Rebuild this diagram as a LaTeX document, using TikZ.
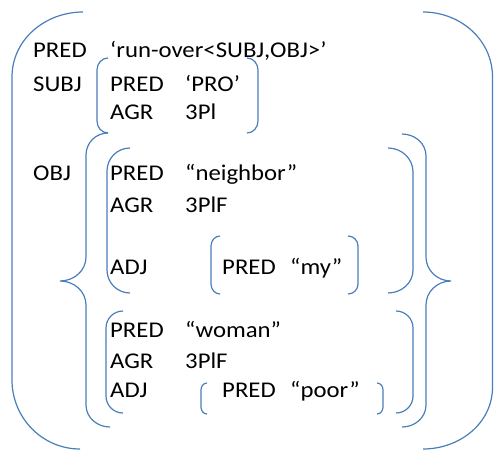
\documentclass[tikz,border=0pt]{standalone}
\usepackage{fontspec}
\setmainfont{Carlito}[FakeStretch=1.1]
\definecolor{brblue}{RGB}{74,126,187}
\begin{document}
\begin{tikzpicture}[x=1pt,y=-1pt,
  brk/.style={draw=brblue,line width=1.2pt},
  txt/.style={anchor=base west,inner sep=0pt,font=\fontsize{22.5}{26}\selectfont}]
\useasboundingbox (0,0) rectangle (494,450);
% text
\node[txt] (p1) at (33,57) {PRED};
\node[txt] (p1v) at (110,57) {‘run-over<SUBJ,OBJ>’};
\node[txt] (subj) at (33,91) {SUBJ};
\node[txt] (sp) at (110,91) {PRED};
\node[txt] (spv) at (185,91) {‘PRO’};
\node[txt] (sa) at (110,119) {AGR};
\node[txt] (sav) at (185,119) {3Pl};
\node[txt] (obj) at (33,180) {OBJ};
\node[txt] (np) at (110,180) {PRED};
\node[txt] (npv) at (185,180) {“neighbor”};
\node[txt] (na) at (110,212) {AGR};
\node[txt] (nav) at (185,212) {3PlF};
\node[txt] (nadj) at (110,274) {ADJ};
\node[txt] (myp) at (222,274) {PRED};
\node[txt] (myv) at (290,274) {“my”};
\node[txt] (wp) at (110,337) {PRED};
\node[txt] (wpv) at (185,337) {“woman”};
\node[txt] (wa) at (110,368) {AGR};
\node[txt] (wav) at (185,368) {3PlF};
\node[txt] (wadj) at (110,397) {ADJ};
\node[txt] (pp) at (222,397) {PRED};
\node[txt] (ppv) at (290,397) {“poor”};
% outer brackets
\draw[brk] (83,12) to[out=180,in=90] (12,77) -- (12,380) to[out=-90,in=180] (80,449);
\draw[brk] (423,12) to[out=0,in=90] (492.5,77) -- (492.5,387) to[out=-90,in=0] (423,449);
% SUBJ
\draw[brk] (108,58) to[out=180,in=90] (97,70) -- (97,121) to[out=-90,in=180] (108,133);
\draw[brk] (247,58) to[out=0,in=90] (258,70) -- (258,121) to[out=-90,in=0] (247,133);
% OBJ braces
\draw[brk] (108,133) to[out=180,in=90] (86,155) -- (86,257) to[out=-90,in=0] (60,281)
  to[out=0,in=90] (86,305) -- (86,405) to[out=-90,in=180] (110,427);
\draw[brk] (402,134) to[out=0,in=90] (426,156) -- (426,257) to[out=-90,in=180] (451,281)
  to[out=180,in=90] (426,305) -- (426,405) to[out=-90,in=0] (402,427);
% neighbor
\draw[brk] (130,148) to[out=180,in=90] (107,171) -- (107,270) to[out=-90,in=180] (130,293);
\draw[brk] (388,148) to[out=0,in=90] (413,172) -- (413,270) to[out=-90,in=0] (388,293);
% my
\draw[brk] (220,236) to[out=180,in=90] (211,246) -- (211,284) to[out=-90,in=180] (220,294);
\draw[brk] (348,236) to[out=0,in=90] (358,246) -- (358,284) to[out=-90,in=0] (348,294);
% woman
\draw[brk] (123,311) to[out=180,in=90] (106,328) -- (106,396) to[out=-90,in=180] (123,413);
\draw[brk] (396,311) to[out=0,in=90] (413,328) -- (413,396) to[out=-90,in=0] (396,413);
% poor
\draw[brk] (207,383) to[out=180,in=90] (201,390) -- (201,407) to[out=-90,in=180] (207,414);
\draw[brk] (377,383) to[out=0,in=90] (383,390) -- (383,407) to[out=-90,in=0] (377,414);
\end{tikzpicture}
\end{document}
